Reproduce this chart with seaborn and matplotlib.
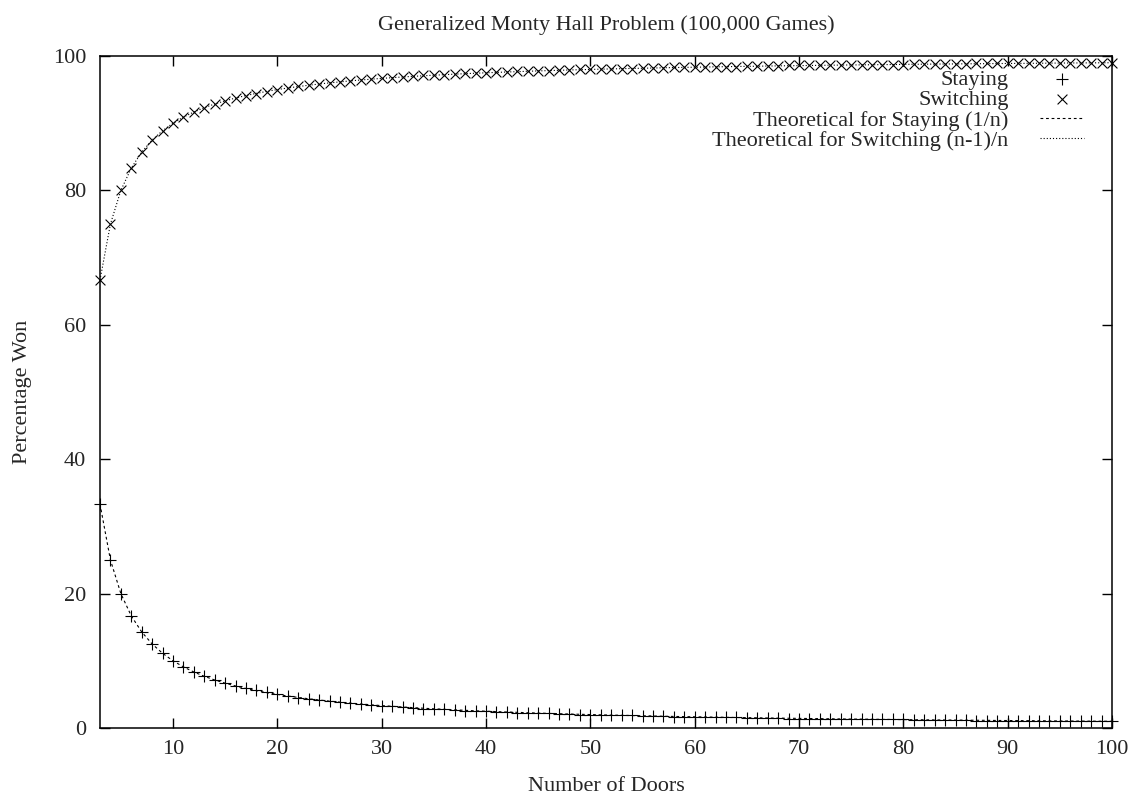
# Generalized Monty Hall problem: simulated win rates vs theory.

import matplotlib
matplotlib.use('Agg')
import matplotlib.pyplot as plt
import seaborn as sns
import pandas as pd

# DATA:
doors = list(range(3, 101))  # number of doors, 3..100

# simulated percentage won when staying
staying = [33.3, 25.0, 20.0, 16.7, 14.3, 12.5, 11.1, 10.0,
           9.1, 8.3, 7.7, 7.1, 6.7, 6.3, 5.9, 5.6, 5.3, 5.0,
           4.8, 4.5, 4.3, 4.2, 4.0, 3.8, 3.7, 3.6, 3.4, 3.3,
           3.2, 3.1, 3.0, 2.9, 2.9, 2.8, 2.7, 2.6, 2.6, 2.5,
           2.4, 2.4, 2.3, 2.3, 2.2, 2.2, 2.1, 2.1, 2.0, 2.0,
           2.0, 1.9, 1.9, 1.9, 1.8, 1.8, 1.8, 1.7, 1.7, 1.7,
           1.6, 1.6, 1.6, 1.6, 1.5, 1.5, 1.5, 1.5, 1.4, 1.4,
           1.4, 1.4, 1.4, 1.4, 1.3, 1.3, 1.3, 1.3, 1.3, 1.3,
           1.2, 1.2, 1.2, 1.2, 1.2, 1.2, 1.1, 1.1, 1.1, 1.1,
           1.1, 1.1, 1.1, 1.1, 1.1, 1.0, 1.0, 1.0, 1.0, 1.0]

# simulated percentage won when switching
switching = [66.7, 75.0, 80.0, 83.3, 85.7, 87.5, 88.9, 90.0,
             90.9, 91.7, 92.3, 92.9, 93.3, 93.7, 94.1, 94.4, 94.7, 95.0,
             95.2, 95.5, 95.7, 95.8, 96.0, 96.2, 96.3, 96.4, 96.6, 96.7,
             96.8, 96.9, 97.0, 97.1, 97.1, 97.2, 97.3, 97.4, 97.4, 97.5,
             97.6, 97.6, 97.7, 97.7, 97.8, 97.8, 97.9, 97.9, 98.0, 98.0,
             98.0, 98.1, 98.1, 98.1, 98.2, 98.2, 98.2, 98.3, 98.3, 98.3,
             98.4, 98.4, 98.4, 98.4, 98.5, 98.5, 98.5, 98.5, 98.6, 98.6,
             98.6, 98.6, 98.6, 98.6, 98.7, 98.7, 98.7, 98.7, 98.7, 98.7,
             98.8, 98.8, 98.8, 98.8, 98.8, 98.8, 98.9, 98.9, 98.9, 98.9,
             98.9, 98.9, 98.9, 98.9, 98.9, 99.0, 99.0, 99.0, 99.0, 99.0]

# theoretical 1/n (percent)
theory_stay = [33.33, 25.00, 20.00, 16.67, 14.29, 12.50, 11.11, 10.00,
               9.09, 8.33, 7.69, 7.14, 6.67, 6.25, 5.88, 5.56, 5.26, 5.00,
               4.76, 4.55, 4.35, 4.17, 4.00, 3.85, 3.70, 3.57, 3.45, 3.33,
               3.23, 3.13, 3.03, 2.94, 2.86, 2.78, 2.70, 2.63, 2.56, 2.50,
               2.44, 2.38, 2.33, 2.27, 2.22, 2.17, 2.13, 2.08, 2.04, 2.00,
               1.96, 1.92, 1.89, 1.85, 1.82, 1.79, 1.75, 1.72, 1.69, 1.67,
               1.64, 1.61, 1.59, 1.56, 1.54, 1.52, 1.49, 1.47, 1.45, 1.43,
               1.41, 1.39, 1.37, 1.35, 1.33, 1.32, 1.30, 1.28, 1.27, 1.25,
               1.23, 1.22, 1.20, 1.19, 1.18, 1.16, 1.15, 1.14, 1.12, 1.11,
               1.10, 1.09, 1.08, 1.06, 1.05, 1.04, 1.03, 1.02, 1.01, 1.00]

# theoretical (n-1)/n (percent)
theory_switch = [66.67, 75.00, 80.00, 83.33, 85.71, 87.50, 88.89, 90.00,
                 90.91, 91.67, 92.31, 92.86, 93.33, 93.75, 94.12, 94.44, 94.74, 95.00,
                 95.24, 95.45, 95.65, 95.83, 96.00, 96.15, 96.30, 96.43, 96.55, 96.67,
                 96.77, 96.88, 96.97, 97.06, 97.14, 97.22, 97.30, 97.37, 97.44, 97.50,
                 97.56, 97.62, 97.67, 97.73, 97.78, 97.83, 97.87, 97.92, 97.96, 98.00,
                 98.04, 98.08, 98.11, 98.15, 98.18, 98.21, 98.25, 98.28, 98.31, 98.33,
                 98.36, 98.39, 98.41, 98.44, 98.46, 98.48, 98.51, 98.53, 98.55, 98.57,
                 98.59, 98.61, 98.63, 98.65, 98.67, 98.68, 98.70, 98.72, 98.73, 98.75,
                 98.77, 98.78, 98.80, 98.81, 98.82, 98.84, 98.85, 98.86, 98.88, 98.89,
                 98.90, 98.91, 98.92, 98.94, 98.95, 98.96, 98.97, 98.98, 98.99, 99.00]

df = pd.DataFrame({'doors': doors, 'staying': staying, 'switching': switching,
                   'theory_stay': theory_stay, 'theory_switch': theory_switch})

# STYLE:
sns.set_style('ticks')
plt.rcParams['font.family'] = ['Liberation Serif', 'DejaVu Serif']
fs = 16

fig = plt.figure(figsize=(11.33, 7.96), dpi=100)
W, H = 1133, 796
ax = fig.add_axes([100 / W, 1 - 728 / H, 1012 / W, 672 / H])

# theoretical curves
sns.lineplot(data=df, x='doors', y='theory_stay', ax=ax, color='black', lw=0.8,
             label='Theoretical for Staying (1/n)')
sns.lineplot(data=df, x='doors', y='theory_switch', ax=ax, color='black', lw=0.8,
             label='Theoretical for Switching (n-1)/n')
ax.lines[0].set_dashes([2.5, 2.5])   # dashed
ax.lines[1].set_dashes([1, 1.8])     # dotted

# simulated points
sns.scatterplot(data=df, x='doors', y='staying', ax=ax, marker='+', color='black',
                s=72, linewidth=0.8, label='Staying', clip_on=False, zorder=3)
sns.scatterplot(data=df, x='doors', y='switching', ax=ax, marker='x', color='black',
                s=50, linewidth=0.8, label='Switching', clip_on=False, zorder=3)

ax.set_xlim(3, 100)
ax.set_ylim(0, 100)
ax.set_xticks(range(10, 101, 10))
ax.set_yticks(range(0, 101, 20))
ax.tick_params(direction='in', top=True, right=True, length=7, width=1,
               labelsize=fs, color='black')
ax.tick_params(axis='x', pad=9)
ax.tick_params(axis='y', pad=10)
for s in ax.spines.values():
    s.set_visible(True)
    s.set_linewidth(1.1)
    s.set_color('black')

# axis labels and title (gnuplot-like placement)
ax.set_xlabel('Number of Doors', fontsize=fs)
ax.xaxis.label.set_va('baseline')
ax.xaxis.set_label_coords(0.5, -(791 - 728) / 672)
ax.set_ylabel('Percentage Won', fontsize=fs)
ax.yaxis.set_label_coords(-(100 - 32) / 1012, 0.5)
fig.text(606 / W, 1 - 30 / H, 'Generalized Monty Hall Problem (100,000 Games)',
         fontsize=fs, ha='center', va='baseline')

# legend: text right-aligned, sample on the right
h, l = ax.get_legend_handles_labels()
order = [2, 3, 0, 1]
ax.legend([h[i] for i in order], [l[i] for i in order], loc='upper right',
          bbox_to_anchor=((1084 - 100) / 1012, (728 - 69) / 672),
          frameon=False, markerfirst=False, fontsize=fs, handlelength=2.0,
          handletextpad=1.4, labelspacing=0.0, borderpad=0, borderaxespad=0)

fig.savefig('out.png', dpi=100)
